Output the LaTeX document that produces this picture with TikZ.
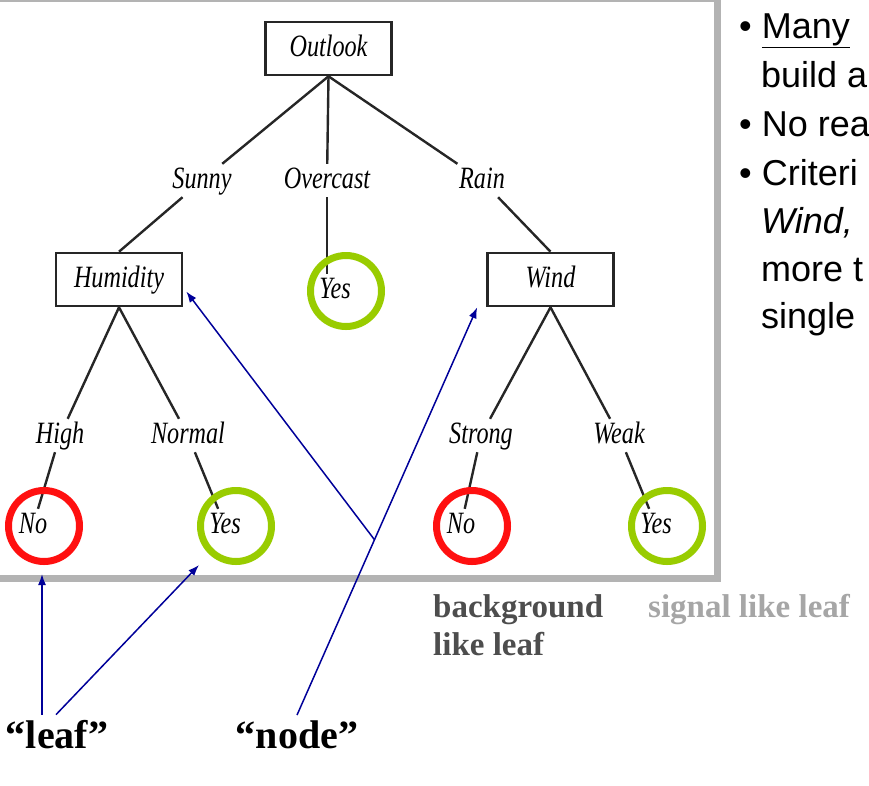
\documentclass[tikz,border=0pt]{standalone}
\usepackage{fontspec}
\setmainfont{Liberation Serif}
\newfontfamily\treefont[FakeStretch=0.78]{Liberation Serif}
\newfontfamily\slidefont{Liberation Sans}
\usetikzlibrary{arrows.meta, calc, backgrounds}
\definecolor{framec}{HTML}{B3B3B3}
\definecolor{noc}{HTML}{FF1010}
\definecolor{yesc}{HTML}{99CC00}
\definecolor{navyc}{HTML}{000099}
\definecolor{bgtext}{HTML}{4D4D4D}
\definecolor{sigtext}{HTML}{A6A6A6}
\newcommand{\treetext}{\treefont\itshape\fontsize{31}{36}\selectfont}
\newcommand{\testbox}[3]{%
  \node[testnode] (#1) at #2 {#3};
}
\newcommand{\leafnode}[4]{%
  \node[branch] (#1t) at ($#2+(-11,7)$) {#4};
  \node[ring, draw=#3] (#1) at #2 {};
}

\begin{document}
\begin{tikzpicture}[x=1pt, y=-1pt, >={Latex[length=11pt,width=8pt]},
    treeline/.style={black!85, line width=2.4pt},
    pointer/.style={->, navyc, line width=1.5pt},
    testnode/.style={draw=black!85, line width=2.6pt, minimum width=126pt,
      minimum height=53pt, inner sep=0pt, font=\treetext,
      text height=20pt, text depth=5pt},
    branch/.style={font=\treetext, anchor=base, inner sep=4pt,
      text height=20pt, text depth=5pt},
    ring/.style={circle, line width=7pt, minimum size=71pt, inner sep=0pt},
    slide/.style={font=\slidefont\fontsize{36}{44}\selectfont,
      anchor=base west, inner sep=0pt},
    callout/.style={font=\bfseries\fontsize{40}{48}\selectfont,
      anchor=base, inner sep=5pt}]
  \useasboundingbox (0,0) rectangle (869,785);
  \draw[framec, line width=7pt] (-10,-2) rectangle (717,578);

  \testbox{outlook}{(328.5,48.5)}{Outlook}
  \testbox{humidity}{(119,279.5)}{Humidity}
  \testbox{wind}{(550.5,279.5)}{Wind}
  \node[branch] (sunny) at (202,188) {Sunny};
  \node[branch] (overcast) at (327,188) {Overcast};
  \node[branch] (rain) at (482,188) {Rain};
  \node[branch] (high) at (60,443) {High};
  \node[branch] (normal) at (188,443) {Normal};
  \node[branch] (strong) at (481,443) {Strong};
  \node[branch] (weak) at (619,443) {Weak};
  \leafnode{yes1}{(346,291)}{yesc}{Yes}
  \leafnode{no1}{(44,526)}{noc}{No}
  \leafnode{yes2}{(236,526)}{yesc}{Yes}
  \leafnode{no2}{(472,526)}{noc}{No}
  \leafnode{yes3}{(667,526)}{yesc}{Yes}

  \begin{scope}[on background layer]
    \foreach \a/\b in {outlook.south/sunny, outlook.south/rain,
        sunny/humidity.north, rain/wind.north,
        humidity.south/high, humidity.south/normal,
        wind.south/strong, wind.south/weak,
        high/no1t, normal/yes2t, strong/no2t, weak/yes3t}
      \draw[treeline] (\a) -- (\b);
    \draw[treeline] (outlook.south) -- (overcast);
    \draw[treeline] (overcast.south) -- (overcast.south |- yes1t.north);
  \end{scope}

  \node[slide] (b1) at (739,38) {\textbullet\ \underline{Many}};
  \node[slide] (b2) at (761,87) {build a};
  \node[slide] (b3) at (739,136) {\textbullet\ No rea};
  \node[slide] (b4) at (739,185) {\textbullet\ Criteri};
  \node[slide] (b5) at (761,233) {\itshape Wind,};
  \node[slide] (b6) at (761,281) {more t};
  \node[slide] (b7) at (761,328) {single};

  \node[font=\bfseries\fontsize{33}{38}\selectfont, text=bgtext,
    anchor=base west, inner sep=0pt] (bg1) at (433,617) {background};
  \node[font=\bfseries\fontsize{33}{38}\selectfont, text=bgtext,
    anchor=base west, inner sep=0pt] (bg2) at (433,655) {like leaf};
  \node[font=\bfseries\fontsize{33}{38}\selectfont, text=sigtext,
    anchor=base west, inner sep=0pt] (sig) at (648,617) {signal like leaf};

  \node[callout] (leaflbl) at (57,748) {``leaf''};
  \node[callout] (nodelbl) at (297,748) {``node''};
  \coordinate (windtip) at ($(wind.south west)+(-9,0)$);
  \coordinate (fork) at ($(nodelbl.north)!0.43!(windtip)$);
  \draw[pointer] (nodelbl.north) -- (windtip);
  \draw[pointer] (fork) -- ($(humidity.east)+(3,12)$);
  \draw[pointer] ($(leaflbl.north -| no1)+(-2,0)$) -- ($(no1.south)+(-2,9)$);
  \draw[pointer] ($(leaflbl.north)+(-1,0)$) -- ($(yes2)+(-37,39)$);
\end{tikzpicture}
\end{document}
